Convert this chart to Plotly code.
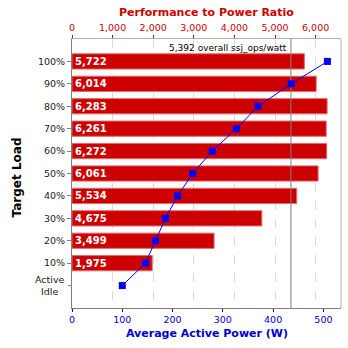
import plotly.graph_objects as go

# Data (bottom to top)
categories = ["Active<br>Idle", "10%", "20%", "30%", "40%", "50%", "60%", "70%", "80%", "90%", "100%"]
ratio = [None, 1975, 3499, 4675, 5534, 6061, 6272, 6261, 6283, 6014, 5722]
power = [100, 146, 166, 186, 210, 240, 279, 327, 370, 436, 508]
overall_ratio = 5392
overall_label = "5,392 overall ssj_ops/watt"
ratio_ticks = [0, 1000, 2000, 3000, 4000, 5000, 6000]
power_ticks = [0, 100, 200, 300, 400, 500]

ypos = list(range(len(categories)))
RED = "#cc0000"
BLUE = "#0000ff"
BLUE_TXT = "#0000cc"
FONT = "DejaVu Sans"

fig = go.Figure()

bar_y = [y for y, r in zip(ypos, ratio) if r is not None]
bar_x = [r for r in ratio if r is not None]
fig.add_trace(go.Bar(
    x=bar_x, y=bar_y, orientation="h",
    xaxis="x", yaxis="y",
    marker=dict(color=RED, line=dict(color="#e06a6a", width=1)),
    width=0.68,
    text=[f"{v:,}" for v in bar_x],
    textposition="inside", insidetextanchor="start", constraintext="none",
    textfont=dict(family=FONT, size=10, color="white", weight="bold"),
    hoverinfo="skip", showlegend=False,
))

# overall ratio marker line (above bars, below power line)
fig.add_trace(go.Scatter(
    x=[overall_ratio, overall_ratio], y=[-1, 11],
    xaxis="x", yaxis="y", mode="lines",
    line=dict(color="#808080", width=1),
    hoverinfo="skip", showlegend=False,
))

fig.add_trace(go.Scatter(
    x=power, y=ypos, xaxis="x2", yaxis="y",
    mode="lines+markers",
    line=dict(color=BLUE, width=1),
    marker=dict(symbol="square", size=7, color=BLUE),
    hoverinfo="skip", showlegend=False,
))

fig.update_layout(
    width=348, height=348,
    margin=dict(l=72, r=7, t=39, b=40),
    paper_bgcolor="white", plot_bgcolor="white",
    font=dict(family=FONT, size=9.5, color="black"),
    xaxis=dict(
        side="top", range=[0, 6625], tickvals=ratio_ticks,
        ticktext=[f"{v:,}" for v in ratio_ticks],
        tickfont=dict(color=RED, size=9.5, family=FONT),
        ticks="outside", ticklen=3, tickcolor=RED,
        showgrid=True, gridcolor="#d9d9d9", griddash="dash", gridwidth=1,
        showline=True, linecolor="#b0b0b0", linewidth=1,
        zeroline=False, fixedrange=True,
    ),
    xaxis2=dict(
        side="bottom", overlaying="x", range=[0, 535], tickvals=power_ticks,
        tickfont=dict(color=BLUE_TXT, size=9.5, family=FONT),
        ticks="outside", ticklen=3, tickcolor=BLUE,
        showgrid=False, zeroline=False,
        showline=True, linecolor="#808080", linewidth=1,
    ),
    yaxis=dict(
        range=[-1, 11], tickvals=ypos[1:], ticktext=categories[1:],
        tickfont=dict(size=9.5, family=FONT, color="#222222"),
        ticks="outside", ticklen=4, tickcolor="#808080",
        showgrid=False, zeroline=False,
        showline=True, linecolor="#808080", linewidth=1,
    ),
    shapes=[
        dict(type="line", xref="paper", yref="paper", x0=1, x1=1, y0=0, y1=1,
             line=dict(color="#b0b0b0", width=1)),
        dict(type="line", xref="paper", yref="y", x0=-0.015, x1=0, y0=0, y1=0,
             line=dict(color="#808080", width=1)),
    ],
    annotations=[
        dict(text=overall_label, xref="x", yref="paper", x=overall_ratio, y=0.967,
             xanchor="right", yanchor="middle", showarrow=False, xshift=-2,
             font=dict(size=9, family=FONT, color="black")),
        dict(text=categories[0], xref="paper", yref="y", x=-0.02, y=0,
             xanchor="right", yanchor="middle", align="center", showarrow=False,
             font=dict(size=9.5, family=FONT, color="#222222")),
        dict(text="<b>Performance to Power Ratio</b>", xref="paper", yref="paper",
             x=0.5, y=1.097, xanchor="center", yanchor="middle", showarrow=False,
             font=dict(size=11, family=FONT, color=RED)),
        dict(text="<b>Average Active Power (W)</b>", xref="paper", yref="paper",
             x=0.5, y=-0.094, xanchor="center", yanchor="middle", showarrow=False,
             font=dict(size=11, family=FONT, color=BLUE_TXT)),
        dict(text="<b>Target Load</b>", xref="paper", yref="paper",
             x=-0.205, y=0.485, xanchor="center", yanchor="middle", showarrow=False,
             textangle=-90, font=dict(size=12, family=FONT, color="black")),
    ],
)

fig.write_html("out.html")
